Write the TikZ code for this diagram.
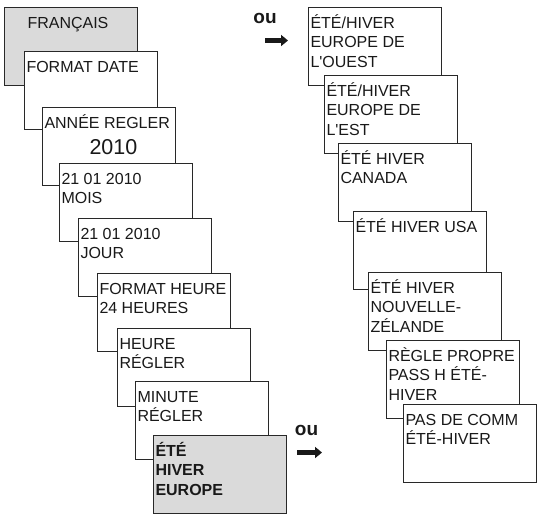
\documentclass[tikz,border=0pt]{standalone}
\usepackage{fontspec}
\setmainfont{Liberation Sans}[Ligatures=TeXOff]
\usetikzlibrary{positioning,arrows.meta}

\definecolor{cardgray}{RGB}{218,218,218}
\definecolor{cardline}{RGB}{40,40,40}

\newcommand{\cardtext}[1]{\parbox[t][78pt][t]{128pt}{\fontsize{16}{19.3}\selectfont\raggedright\rule{0pt}{21.5pt}#1}}

\tikzset{
  card/.style={draw=cardline, line width=0.8pt, fill=white, inner xsep=2.5pt, inner ysep=0pt, outer sep=0pt, anchor=north west, text=black!90},
  greycard/.style={card, fill=cardgray},
  oulabel/.style={font=\fontsize{19}{22}\selectfont\bfseries, inner sep=0pt, anchor=base, text=black!90},
  bigarrow/.style={-{Triangle[length=7pt,width=11pt]}, line width=5.5pt, draw=black!90},
}

\begin{document}
\begin{tikzpicture}
\useasboundingbox (0,0) rectangle (537pt,-515pt);

% left column
\node[greycard] (francais) at (4pt,-7pt) {\cardtext{\hspace*{21pt}FRANÇAIS}};
\node[card, below right=44pt and 20pt of francais.north west] (formatdate) {\cardtext{FORMAT DATE}};
\node[card, below right=56pt and 18pt of formatdate.north west] (annee) {\cardtext{ANNÉE~REGLER\\[7pt]\hspace*{45pt}{\fontsize{21.5}{26}\selectfont 2010}}};
\node[card, below right=56pt and 17pt of annee.north west] (mois) {\cardtext{21 01 2010\\MOIS}};
\node[card, below right=55pt and 19pt of mois.north west] (jour) {\cardtext{21 01 2010\\JOUR}};
\node[card, below right=55pt and 19pt of jour.north west] (formatheure) {\cardtext{FORMAT~HEURE\\24 HEURES}};
\node[card, below right=55pt and 20pt of formatheure.north west] (heure) {\cardtext{HEURE\\RÉGLER}};
\node[card, below right=53pt and 18pt of heure.north west] (minute) {\cardtext{MINUTE\\RÉGLER}};
\node[greycard, below right=54pt and 18pt of minute.north west] (etehiver) {\cardtext{\bfseries ÉTÉ\\HIVER\\EUROPE}};

% right column
\node[card] (ouest) at (308pt,-7pt) {\cardtext{ÉTÉ/HIVER\\EUROPE DE\\L'OUEST}};
\node[card, below right=68pt and 16pt of ouest.north west] (est) {\cardtext{ÉTÉ/HIVER\\EUROPE DE\\L'EST}};
\node[card, below right=68pt and 14pt of est.north west] (canada) {\cardtext{ÉTÉ HIVER\\CANADA}};
\node[card, below right=68pt and 15pt of canada.north west] (usa) {\cardtext{ÉTÉ HIVER USA}};
\node[card, below right=61pt and 15pt of usa.north west] (zelande) {\cardtext{ÉTÉ HIVER\\NOUVELLE-\\ZÉLANDE}};
\node[card, below right=68pt and 18pt of zelande.north west] (propre) {\cardtext{RÈGLE~PROPRE\\PASS H ÉTÉ-\\HIVER}};
\node[card, below right=64pt and 17pt of propre.north west] (pascomm) {\cardtext{PAS DE COMM\\ÉTÉ-HIVER}};

% ou arrows
\node[oulabel] (outop) at (265pt,-23pt) {ou};
\coordinate (toptail) at (265pt,-40.5pt);
\coordinate (tophead) at (288pt,-40.5pt);
\draw[bigarrow] (toptail) -- (tophead);

\node[oulabel] (oubottom) at (306.5pt,-435pt) {ou};
\coordinate (bottail) at (297pt,-452.5pt);
\coordinate (bothead) at (322pt,-452.5pt);
\draw[bigarrow] (bottail) -- (bothead);

\end{tikzpicture}
\end{document}
